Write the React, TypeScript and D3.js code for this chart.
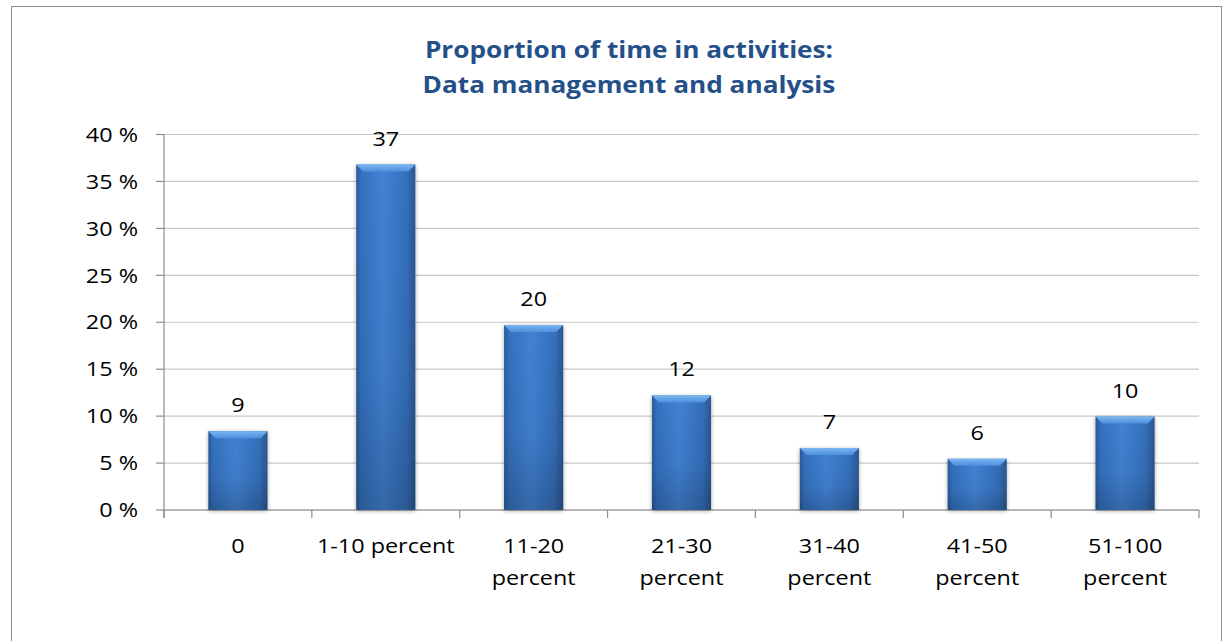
import React from "react";
import * as d3 from "d3";

const categories: string[][] = [
  ["0"],
  ["1-10 percent"],
  ["11-20", "percent"],
  ["21-30", "percent"],
  ["31-40", "percent"],
  ["41-50", "percent"],
  ["51-100", "percent"],
];
const values: number[] = [8.4, 36.8, 19.7, 12.2, 6.6, 5.45, 9.95];
const labels: string[] = ["9", "37", "20", "12", "7", "6", "10"];
const yTicks: number[] = [0, 5, 10, 15, 20, 25, 30, 35, 40];
const titleLines: string[] = ["Proportion of time in activities:", "Data management and analysis"];

const W = 1223;
const H = 641;
const plot = { left: 164, right: 1199, top: 134.5, bottom: 510 };
const FONT = "'Open Sans', 'DejaVu Sans', sans-serif";
const SX = 1.17;
const FS = 20;

function T(props: {
  x: number;
  y: number;
  anchor?: string;
  size?: number;
  weight?: string;
  fill?: string;
  dy?: string;
  children: React.ReactNode;
}) {
  const { x, y, anchor = "middle", size = FS, weight = "normal", fill = "#000", dy, children } = props;
  return (
    <text
      transform={`translate(${x},${y}) scale(${SX},1)`}
      x={0}
      y={0}
      dy={dy}
      textAnchor={anchor}
      fontSize={size}
      fontWeight={weight}
      fill={fill}
    >
      {children}
    </text>
  );
}

export default function App() {
  const x = d3
    .scaleBand<number>()
    .domain(d3.range(categories.length))
    .range([plot.left, plot.right])
    .paddingInner(0.6)
    .paddingOuter(0.3);
  const step = x.step();
  const y = d3.scaleLinear().domain([0, 40]).range([plot.bottom, plot.top]);
  const bw = x.bandwidth();

  return (
    <svg
      width={W}
      height={H}
      style={{ position: "absolute", left: 0, top: 0, background: "#fff" }}
      fontFamily={FONT}
    >
      <defs>
        <linearGradient id="barBody" x1="0" x2="1" y1="0" y2="0">
          <stop offset="0" stopColor="#2a5a98" />
          <stop offset="0.08" stopColor="#3470bd" />
          <stop offset="0.45" stopColor="#4183d4" />
          <stop offset="0.85" stopColor="#356fbb" />
          <stop offset="1" stopColor="#2a5790" />
        </linearGradient>
        <linearGradient id="barTop" x1="0" x2="0" y1="0" y2="1">
          <stop offset="0" stopColor="#7ab6f2" />
          <stop offset="1" stopColor="#4d8fdc" />
        </linearGradient>
        <linearGradient id="barShade" x1="0" x2="0" y1="0" y2="1">
          <stop offset="0" stopColor="#000" stopOpacity="0" />
          <stop offset="0.6" stopColor="#000" stopOpacity="0.05" />
          <stop offset="1" stopColor="#000" stopOpacity="0.2" />
        </linearGradient>
        <filter id="shadow" x="-20%" y="-5%" width="140%" height="115%">
          <feGaussianBlur in="SourceAlpha" stdDeviation="2" />
          <feOffset dx="0" dy="1" result="b" />
          <feComponentTransfer>
            <feFuncA type="linear" slope="0.35" />
          </feComponentTransfer>
          <feMerge>
            <feMergeNode />
            <feMergeNode in="SourceGraphic" />
          </feMerge>
        </filter>
      </defs>

      {/* outer border */}
      <rect x={11.5} y={6.5} width={1210} height={H + 10} fill="none" stroke="#8c8c8c" strokeWidth={1} />

      {/* title */}
      {titleLines.map((t, i) => (
        <T key={"t" + i} x={629} y={58 + i * 35} size={22.4} weight="bold" fill="#24508a">
          {t}
        </T>
      ))}

      {/* gridlines */}
      {yTicks.map((t) => (
        <line
          key={"g" + t}
          x1={plot.left}
          x2={plot.right}
          y1={y(t)}
          y2={y(t)}
          stroke="#c8c8c8"
          strokeWidth={1.2}
        />
      ))}

      {/* y axis */}
      <line x1={plot.left} x2={plot.left} y1={plot.top} y2={plot.bottom + 8} stroke="#8c8c8c" strokeWidth={1.2} />
      {yTicks.map((t) => (
        <g key={"yt" + t}>
          <line x1={plot.left - 8} x2={plot.left} y1={y(t)} y2={y(t)} stroke="#8c8c8c" strokeWidth={1.2} />
          <T x={138} y={y(t)} dy="0.36em" anchor="end">
            {t} %
          </T>
        </g>
      ))}

      {/* x axis */}
      <line x1={plot.left} x2={plot.right} y1={plot.bottom} y2={plot.bottom} stroke="#8c8c8c" strokeWidth={1.2} />
      {d3.range(categories.length + 1).map((i) => (
        <line
          key={"xt" + i}
          x1={plot.left + i * step}
          x2={plot.left + i * step}
          y1={plot.bottom}
          y2={plot.bottom + 8}
          stroke="#8c8c8c"
          strokeWidth={1.2}
        />
      ))}
      {categories.map((lines, i) =>
        lines.map((l, j) => (
          <T key={"xl" + i + "-" + j} x={(x(i) as number) + bw / 2} y={553 + j * 32}>
            {l}
          </T>
        ))
      )}

      {/* bars */}
      {values.map((v, i) => {
        const bx = x(i) as number;
        const by = y(v);
        const bh = y(0) - by;
        const bev = 7;
        return (
          <g key={"b" + i}>
            <g filter="url(#shadow)">
              <rect x={bx} y={by} width={bw} height={bh} fill="url(#barBody)" />
            </g>
            <rect x={bx} y={by} width={bw} height={bh} fill="url(#barShade)" />
            <path
              d={`M${bx},${by} L${bx + bw},${by} L${bx + bw - bev},${by + bev} L${bx + bev},${by + bev} Z`}
              fill="url(#barTop)"
            />
            <T x={bx + bw / 2} y={by - 19}>
              {labels[i]}
            </T>
          </g>
        );
      })}
    </svg>
  );
}
